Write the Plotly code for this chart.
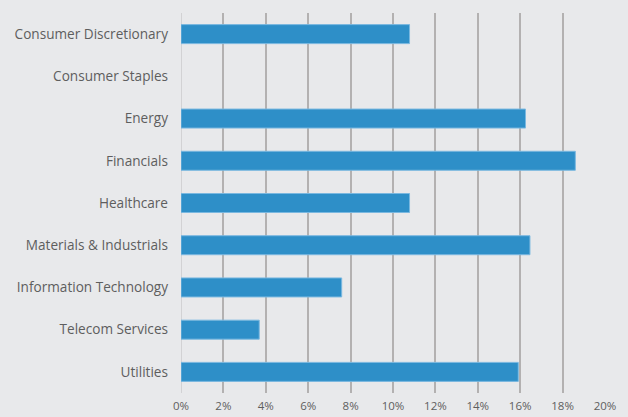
import plotly.graph_objects as go

categories = [
    "Consumer Discretionary",
    "Consumer Staples",
    "Energy",
    "Financials",
    "Healthcare",
    "Materials & Industrials",
    "Information Technology",
    "Telecom Services",
    "Utilities",
]
values = [0.1078, 0.0, 0.1625, 0.186, 0.1078, 0.1646, 0.0758, 0.0369, 0.1591]
x_ticks = [0, 0.02, 0.04, 0.06, 0.08, 0.10, 0.12, 0.14, 0.16, 0.18, 0.20]

BG = "#e8e9eb"
fig = go.Figure(
    go.Bar(
        y=categories,
        x=values,
        orientation="h",
        marker=dict(
            color="#2e8fc8",
            line=dict(color="#7ab8e0", width=[1 if v > 0 else 0 for v in values]),
        ),
        hoverinfo="x+y",
    )
)
fig.update_layout(
    width=628,
    height=417,
    paper_bgcolor=BG,
    plot_bgcolor=BG,
    margin=dict(l=181, r=23, t=13, b=24),
    bargap=0.55,
    showlegend=False,
    font=dict(family="Open Sans", color="#5a5a5a", size=13),
)
fig.update_xaxes(
    range=[0, 0.20],
    tickvals=x_ticks,
    tickformat=".0%",
    showgrid=True,
    gridcolor="#b3b1b1",
    gridwidth=1.5,
    zeroline=True,
    zerolinecolor="#d2d2d4",
    zerolinewidth=1,
    showline=False,
    ticks="",
    ticklabelstandoff=4,
    tickfont=dict(size=11.5, color="#5e5e5e"),
    automargin=False,
    fixedrange=True,
)
fig.update_yaxes(
    autorange="reversed",
    showgrid=False,
    showline=False,
    zeroline=False,
    ticks="",
    ticklabelstandoff=12,
    tickfont=dict(size=13.6, color="#5e5e5e"),
    automargin=False,
    fixedrange=True,
)
fig.write_html(
    "out.html",
    config={"displayModeBar": False},
    post_script="document.body.style.margin='0px';document.body.style.overflow='hidden';document.body.style.background='#e8e9eb';",
)
